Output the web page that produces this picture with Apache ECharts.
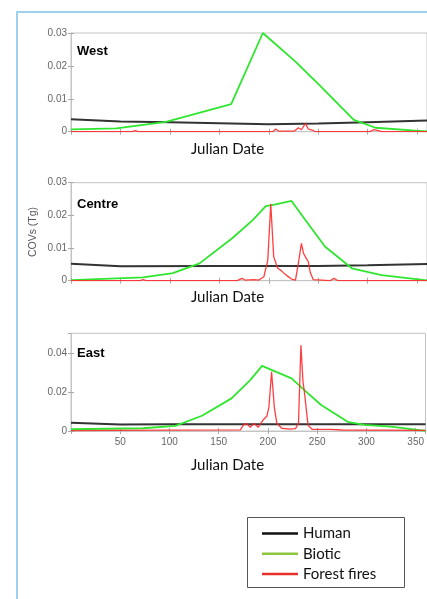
<!DOCTYPE html>
<html>
<head>
<meta charset="utf-8">
<script src="https://cdn.jsdelivr.net/npm/echarts@6/dist/echarts.min.js"></script>
<style>
html,body{margin:0;padding:0;background:#fff;}
#chart{width:427px;height:599px;}
</style>
</head>
<body>
<div id="chart"></div>
<script>
// ---- Data (Julian day, COVs in Tg) ----
var panelNames = ['West', 'Centre', 'East'];
var seriesNames = ['Human', 'Biotic', 'Forest fires'];
var xTicks = [50, 100, 150, 200, 250, 300, 350];

var westHuman = [[0,0.0038],[50,0.0031],[100,0.0029],[150,0.0026],[200,0.0023],[250,0.0025],[300,0.0029],[360,0.0034]];
var westBiotic = [[0,0.0007],[46,0.001],[96,0.003],[162,0.0084],[194,0.030],[227,0.0213],[251,0.0142],[286,0.0036],[308,0.0012],[348,0.0003],[360,0.0001]];
var westFire = [[0,0],[62,0],[65,0.0003],[68,0],[130,0],[204,0],[207,0.0008],[210,0.0002],[226,0.0002],[230,0.0012],[233,0.0006],[237,0.0025],[240,0.0008],[244,0.0005],[247,0],[302,0],[306,0.0006],[308,0.0008],[311,0.0003],[314,0],[360,0]];

var centreHuman = [[0,0.0052],[50,0.0044],[150,0.0045],[250,0.0045],[300,0.0047],[360,0.0051]];
var centreBiotic = [[0,0.0002],[73,0.001],[103,0.0023],[130,0.0053],[163,0.013],[184,0.0186],[197,0.0228],[207,0.0234],[223,0.0244],[237,0.0186],[257,0.0104],[284,0.0038],[314,0.0017],[360,0.0001]];
var centreFire = [[0,0],[70,0],[73,0.0003],[76,0],[168,0],[173,0.0007],[176,0.0002],[185,0.0003],[190,0.0002],[195,0.0012],[199,0.0063],[202,0.0235],[205,0.0073],[209,0.0038],[213,0.003],[216,0.0021],[219,0.0014],[223,0.0005],[227,0.0002],[230,0.0055],[233,0.0114],[235,0.0085],[237,0.0073],[240,0.0058],[242,0.0025],[245,0.0003],[262,0],[266,0.0007],[270,0],[360,0]];

var eastHuman = [[0,0.0042],[50,0.0033],[100,0.0034],[200,0.0034],[300,0.0035],[360,0.0035]];
var eastBiotic = [[0,0.0009],[73,0.0014],[106,0.0026],[133,0.0078],[163,0.0167],[182,0.026],[194,0.0333],[224,0.0269],[237,0.0209],[254,0.0133],[281,0.0047],[298,0.0031],[325,0.0022],[360,0.0001]];
var eastFire = [[0,0.0002],[100,0.0004],[172,0.0006],[175,0.003],[178.5,0.0039],[182,0.0019],[186,0.0039],[190,0.0019],[195,0.0056],[199,0.0077],[201,0.0124],[203.7,0.0303],[206.5,0.012],[209,0.004],[214,0.0014],[222,0.001],[228,0.0012],[231,0.004],[233.5,0.0439],[235.6,0.0252],[237,0.02],[240.7,0.003],[245,0.0008],[264,0.0008],[275,0.0005],[360,0.0003]];

var panelData = [
  [westHuman, westBiotic, westFire],
  [centreHuman, centreBiotic, centreFire],
  [eastHuman, eastBiotic, eastFire]
];
var yMax = [0.03, 0.03, 0.05];
var yInterval = [0.01, 0.01, 0.02];

// ---- Layout / style ----
var gridTops = [33, 182.7, 333.3];
var gridHeights = [98.7, 98, 97.7];
var lineColors = ['#333333', '#2fe62f', '#ff2a2a'];
var lineWidths = [2, 1.8, 1.3];
var legendColors = ['#111111', '#8dc63f', '#e8302a'];
var axisGray = '#c4c4c4';
var labelFont = 'Liberation Sans, Arial, sans-serif';
var titleFont = 'Lato, Open Sans, sans-serif';

var grids = [], xAxes = [], yAxes = [], series = [], graphics = [];
function fmtY(v){ return v === 0 ? '0' : v.toFixed(2); }

for (var p = 0; p < 3; p++) {
  grids.push({left: 71, top: gridTops[p], width: 357, height: gridHeights[p],
    show: true, borderColor: axisGray, borderWidth: 1, backgroundColor: '#fff'});
  var isBottom = (p === 2);
  xAxes.push({type: 'value', gridIndex: p, min: 0, max: 360, interval: 50, position: 'bottom',
    axisLine: {show: true, lineStyle: {color: axisGray}},
    axisTick: {show: true, inside: true, length: 3, lineStyle: {color: '#aaa'}},
    splitLine: {show: false},
    axisLabel: {show: isBottom, showMinLabel: false, showMaxLabel: false, color: '#666', fontSize: 10, fontFamily: labelFont, margin: 6}
  });
  xAxes.push({type: 'value', gridIndex: p, min: 0, max: 360, interval: 50, position: 'top',
    axisLine: {show: true, lineStyle: {color: axisGray}},
    axisTick: {show: true, inside: true, length: 3, lineStyle: {color: '#aaa'}},
    splitLine: {show: false}, axisLabel: {show: false}
  });
  yAxes.push({type: 'value', gridIndex: p, min: 0, max: yMax[p], interval: yInterval[p], position: 'left',
    axisLine: {show: true, lineStyle: {color: axisGray}},
    axisTick: {show: true, inside: true, length: 3, lineStyle: {color: '#aaa'}},
    splitLine: {show: false},
    axisLabel: {show: true, showMaxLabel: p !== 2, color: '#666', fontSize: 10, fontFamily: labelFont, margin: 4, formatter: fmtY}
  });
  yAxes.push({type: 'value', gridIndex: p, min: 0, max: yMax[p], interval: yInterval[p], position: 'right',
    axisLine: {show: true, lineStyle: {color: axisGray}},
    axisTick: {show: true, inside: true, length: 3, lineStyle: {color: '#aaa'}},
    splitLine: {show: false}, axisLabel: {show: false}
  });
  for (var s = 0; s < 3; s++) {
    series.push({name: seriesNames[s], type: 'line', xAxisIndex: p * 2, yAxisIndex: p * 2,
      data: panelData[p][s], showSymbol: false, symbol: 'none', animation: false,
      lineStyle: {color: lineColors[s], width: lineWidths[s], opacity: s === 2 ? 0.9 : 1},
      itemStyle: {color: lineColors[s]}, z: 2 + s});
  }
}

// panel labels
var panelLabelY = [52.5, 205, 354];
var juliY = [149.5, 297, 465.5];
for (var q = 0; q < 3; q++) {
  graphics.push({type: 'text', left: 77, top: panelLabelY[q] - 7.5, z: 10,
    style: {text: panelNames[q], fontSize: 13, fontWeight: 'bold', fontFamily: labelFont, fill: '#000'}});
  graphics.push({type: 'text', x: 227.5, y: juliY[q], z: 10,
    style: {text: 'Julian Date', fontSize: 15, fontFamily: titleFont, fill: '#111', textAlign: 'center', textVerticalAlign: 'middle'}});
}
// y-axis title
graphics.push({type: 'text', x: 33, y: 232, rotation: Math.PI / 2, z: 10,
  style: {text: 'COVs (Tg)', fontSize: 10.5, fontFamily: labelFont, fill: '#555', textAlign: 'center', textVerticalAlign: 'middle'}});
// frame
graphics.push({type: 'polyline', z: 0, shape: {points: [[17, 605], [17, 12], [440, 12]]},
  style: {stroke: '#9fd1ea', lineWidth: 2, fill: null}});
// legend box
graphics.push({type: 'rect', z: 0, shape: {x: 247.5, y: 517.5, width: 157, height: 70},
  style: {stroke: '#555', lineWidth: 1, fill: '#fff'}});

var option = {
  animation: false,
  grid: grids,
  xAxis: xAxes,
  yAxis: yAxes,
  series: series,
  graphic: graphics,
  legend: {
    orient: 'vertical', left: 257, top: 521, itemGap: 5.3,
    icon: 'rect', itemWidth: 36, itemHeight: 2.5,
    textStyle: {fontSize: 15, fontFamily: titleFont, color: '#111', padding: [0, 0, 0, 0]},
    selectedMode: false,
    data: seriesNames.map(function(n, i){ return {name: n, itemStyle: {color: legendColors[i]}, lineStyle: {color: legendColors[i]}}; })
  }
};
var chart = echarts.init(document.getElementById('chart'), null, {renderer: 'canvas'});
chart.setOption(option);
</script>
</body>
</html>
